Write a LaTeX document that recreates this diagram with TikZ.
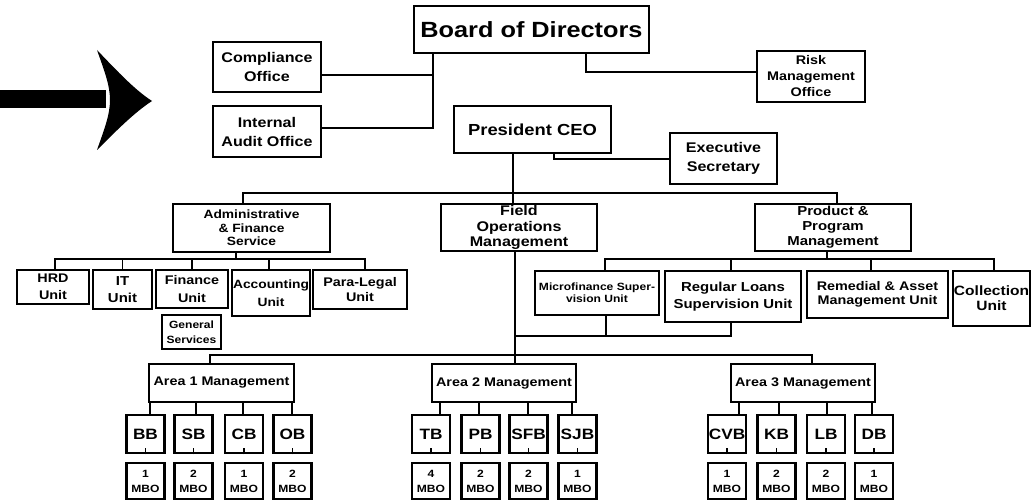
\documentclass[tikz,border=0pt]{standalone}
\usepackage{fontspec}
\setmainfont{Liberation Sans}[FakeStretch=1.15]
\newcommand\fsz[2]{\fontsize{#1}{#2}\selectfont}
\begin{document}
\begin{tikzpicture}[x=1pt,y=-1pt,
  box/.style={draw, line width=1.7pt, align=center, inner sep=0pt},
  heavy/.style={box, line width=2.3pt},
  fs/.style 2 args={font=\bfseries\fsz{#1}{#2}},
  sz/.style 2 args={minimum width=#1pt, minimum height=#2pt},
  conn/.style={line width=1.8pt},
  tick/.style={line width=1.3pt},
  brbox/.style={heavy, line width=2.6pt, sz={38}{38}, fs={15}{16}},
  mbobox/.style={heavy, line width=2.6pt, sz={38}{36}, fs={10.5}{15}}]
\useasboundingbox (0,0) rectangle (1036,500);
\fill[white] (0,0) rectangle (1036,500);

% big arrow
\fill (0,90) rectangle (106,108);
\fill (97,50) .. controls (118,72) and (135,90) .. (152,101)
  .. controls (135,112) and (117,130) .. (97,150)
  .. controls (104,130) and (110,115) .. (110,100)
  .. controls (110,85) and (104,70) .. (97,50) -- cycle;

% top level
\node[box, sz={235}{47}, fs={22}{24}] (board) at (531.5,29.5) {Board of Directors};
\node[box, sz={108}{50}, fs={14}{19}] (comp) at (267,67) {Compliance\\Office};
\node[box, sz={108}{51}, fs={14}{19}] (audit) at (267,131.5) {Internal\\Audit Office};
\node[box, sz={108}{51}, fs={12.5}{16}] (risk) at (811,76.5) {Risk\\Management\\Office};
\node[box, sz={157}{47}, fs={16}{18}] (ceo) at (532.5,129.5) {President CEO};
\node[box, sz={107}{51}, fs={14}{19.5}] (exec) at (723.5,158.5) {Executive\\Secretary};

% second level
\node[box, sz={157}{48}, fs={12}{13.5}] (admin) at (251.5,228) {Administrative\\\& Finance\\Service};
\node[box, sz={156}{47}, fs={14}{15.5}] (field) at (519,227.5) {Field\\Operations\\Management};
\node[box, sz={156}{47}, fs={13}{15}] (prod) at (833,227.5) {Product \&\\Program\\Management};

% admin units
\node[box, sz={72}{34}, fs={12.5}{17}] (hrd) at (53,287) {HRD\\Unit};
\node[box, sz={59}{39}, fs={13}{17}] (it) at (122.5,289.5) {IT\\Unit};
\node[box, sz={72}{38}, fs={12.5}{18}] (fin) at (192,289) {Finance\\Unit};
\node[box, sz={78}{46}, fs={12}{18}] (acc) at (271,293) {Accounting\\Unit};
\node[box, sz={94}{39}, fs={12.5}{15}] (para) at (360,289.5) {Para-Legal\\Unit};
\node[box, sz={59}{34}, fs={10.5}{15}] (gen) at (191.5,332) {General\\Services};

% product units
\node[box, sz={124}{44}, fs={10.5}{12}] (micro) at (597,293) {Microfinance Super-\\vision Unit};
\node[heavy, sz={136}{51}, fs={13}{16.5}] (reg) at (733,296.5) {Regular Loans\\Supervision Unit};
\node[heavy, sz={141}{47}, fs={12.5}{14.5}] (rem) at (877.5,294.5) {Remedial \& Asset\\Management Unit};
\node[heavy, sz={77}{55}, fs={13.5}{15}] (coll) at (991.5,298.5) {Collection\\Unit};

% areas
\node[heavy, sz={145}{38}, fs={12.5}{14}] (area1) at (221.5,383) {Area 1 Management};
\node[heavy, sz={144}{38}, fs={12.5}{14}] (area2) at (504,383) {Area 2 Management};
\node[heavy, sz={144}{38}, fs={12.5}{14}] (area3) at (803,383) {Area 3 Management};

% branches and MBOs
\foreach \n/\x/\t/\m in {bb/145.5/BB/1, sb/193.5/SB/2, cb/244/CB/1, ob/292.5/OB/2,
  tb/431/TB/4, pb/480.5/PB/2, sfb/528.5/SFB/2, sjb/577.5/SJB/1,
  cvb/727/CVB/1, kb/776.5/KB/2, lb/826/LB/2, db/874/DB/1}{
  \node[brbox] (\n) at (\x,434) {\t};
  \node[mbobox] (\n m) at (\x,481) {\m\\MBO};
  \draw[tick] (\n.south) -- ++(0,-6);
}

% connectors: board
\draw[conn] ([yshift=-8]comp.east) -| ([xshift=-98.5]board.south);
\draw[conn] ([yshift=3.5]audit.east) -| ([xshift=-98.5]board.south);
\draw[conn] ([xshift=54.5]board.south) |- ([yshift=4.5]risk.west);

% CEO
\draw[conn] ([xshift=21.5]ceo.south) |- ([yshift=-0.5]exec.west);
\coordinate (hb) at (513,193);
\draw[conn] ([xshift=-19.5]ceo.south) -- (hb) -- ([xshift=-6]field.north);
\draw[conn] ([xshift=-8.5]admin.north) |- (hb) -| ([xshift=4]prod.north);

% admin units
\coordinate (ab) at (236,259);
\draw[conn] ([xshift=-15.5]admin.south) -- (ab);
\draw[conn] ([xshift=2]hrd.north) |- ([xshift=5]para.north |- ab) -- ([xshift=5]para.north);
\draw[conn] (it.north) -- (it.north |- ab);
\draw[conn] (fin.north) -- (fin.north |- ab);
\draw[conn] ([xshift=-2]acc.north) -- ([xshift=-2]acc.north |- ab);

% product units
\coordinate (pbar) at (827,259);
\draw[conn] ([xshift=-6]prod.south) -- (pbar);
\draw[conn] ([xshift=8]micro.north) |- ([xshift=2.5]coll.north |- pbar) -- ([xshift=2.5]coll.north);
\draw[conn] ([xshift=-2]reg.north) -- ([xshift=-2]reg.north |- pbar);
\draw[conn] ([xshift=-6.5]rem.north) -- ([xshift=-6.5]rem.north |- pbar);

% field operations to areas
\coordinate (fb) at (515,355);
\coordinate (mb) at (515,336);
\draw[conn] ([xshift=-4]field.south) -- ([xshift=11]area2.north);
\draw[conn] ([xshift=-11.5]area1.north) |- (fb) -| ([xshift=9]area3.north);
\draw[conn] ([xshift=9]micro.south) |- (mb);
\draw[conn] ([xshift=-2]reg.south) |- (mb);

% areas to branches
\foreach \n/\a/\dx in {bb/area1/4.5, sb/area1/2.5, cb/area1/-1, ob/area1/-0.5,
  tb/area2/9, pb/area2/-1.5, sfb/area2/-0.5, sjb/area2/-5.5,
  cvb/area3/12, kb/area3/2.5, lb/area3/1, db/area3/-2}{
  \draw[conn] ([xshift=\dx]\n.north) -- ([xshift=\dx]\n.north |- \a.south);
}
\end{tikzpicture}
\end{document}
